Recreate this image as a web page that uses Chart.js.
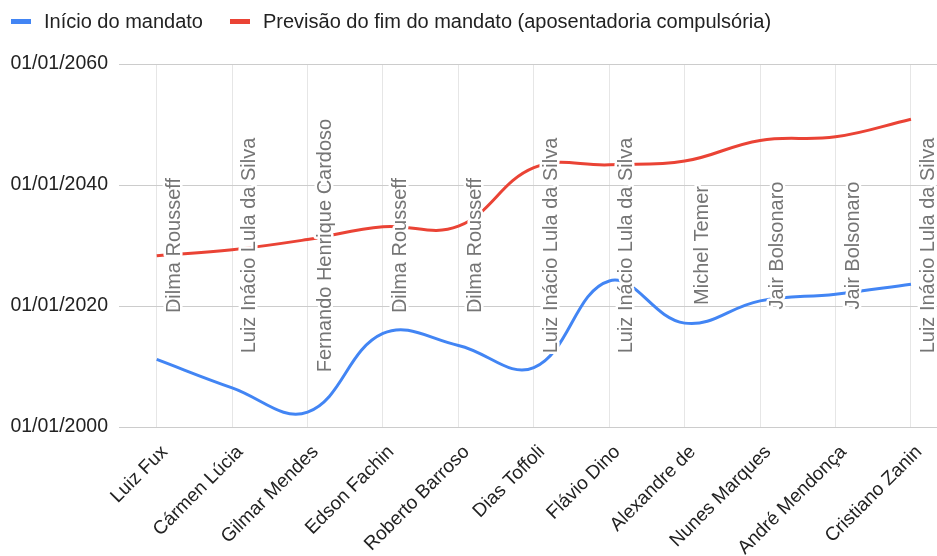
<!DOCTYPE html>
<html>
<head>
<meta charset="utf-8">
<script src="https://cdn.jsdelivr.net/npm/chart.js@4.4.1/dist/chart.umd.min.js"></script>
<style>
  html, body { margin: 0; padding: 0; background: #fff; }
  #wrap { width: 937px; height: 556px; position: relative; }
</style>
</head>
<body>
<div id="wrap"><canvas id="chart"></canvas></div>
<script>
// ministros do STF (eixo x)
const ministros = ['Luiz Fux', 'Cármen Lúcia', 'Gilmar Mendes', 'Edson Fachin', 'Roberto Barroso',
  'Dias Toffoli', 'Flávio Dino', 'Alexandre de', 'Nunes Marques', 'André Mendonça', 'Cristiano Zanin'];

// datas em anos decimais
const inicioMandato = [2011.17, 2006.47, 2002.47, 2015.46, 2013.48, 2009.81, 2024.14, 2017.17, 2020.85, 2021.96, 2023.59];
const fimMandato = [2028.32, 2029.30, 2030.99, 2033.10, 2033.19, 2042.87, 2043.33, 2043.95, 2047.37, 2047.96, 2050.87];

// presidente que indicou
const indicadoPor = ['Dilma Rousseff', 'Luiz Inácio Lula da Silva', 'Fernando Henrique Cardoso', 'Dilma Rousseff',
  'Dilma Rousseff', 'Luiz Inácio Lula da Silva', 'Luiz Inácio Lula da Silva', 'Michel Temer',
  'Jair Bolsonaro', 'Jair Bolsonaro', 'Luiz Inácio Lula da Silva'];

const anosEixo = [2000, 2020, 2040, 2060];

const FONTE = '"Liberation Sans", Arial, sans-serif';

const legenda = {
  id: 'legenda',
  afterDraw(chart) {
    const ctx = chart.ctx;
    ctx.save();
    ctx.font = '20px ' + FONTE;
    ctx.textBaseline = 'alphabetic';
    let x = 11;
    chart.data.datasets.forEach(ds => {
      ctx.fillStyle = ds.borderColor;
      ctx.fillRect(x, 19, 20, 5);
      ctx.fillStyle = '#222';
      ctx.fillText(ds.label, x + 33, 28);
      x += 33 + ctx.measureText(ds.label).width + 27;
    });
    ctx.restore();
  }
};

const anotacoes = {
  id: 'anotacoes',
  afterDatasetsDraw(chart) {
    const { ctx, chartArea, scales } = chart;
    const meio = (chartArea.top + chartArea.bottom) / 2;
    ctx.save();
    ctx.font = '20px ' + FONTE;
    ctx.textAlign = 'center';
    ctx.textBaseline = 'alphabetic';
    ctx.lineJoin = 'round';
    indicadoPor.forEach((nome, i) => {
      const px = scales.x.getPixelForValue(i);
      ctx.save();
      ctx.translate(px + 23, meio);
      ctx.rotate(-Math.PI / 2);
      ctx.lineWidth = 5;
      ctx.strokeStyle = '#fff';
      ctx.strokeText(nome, 0, 0);
      ctx.fillStyle = '#757575';
      ctx.fillText(nome, 0, 0);
      ctx.restore();
    });
    ctx.restore();
  }
};

const ctx = document.getElementById('chart').getContext('2d');
const chart = new Chart(ctx, {
  type: 'line',
  data: {
    datasets: [{
      label: 'Início do mandato',
      data: inicioMandato.map((v, i) => ({ x: i, y: v })),
      borderColor: '#4285F4',
      backgroundColor: '#4285F4',
      borderWidth: 3,
      pointRadius: 0,
      tension: 0.4,
    }, {
      label: 'Previsão do fim do mandato (aposentadoria compulsória)',
      data: fimMandato.map((v, i) => ({ x: i, y: v })),
      borderColor: '#EA4335',
      backgroundColor: '#EA4335',
      borderWidth: 3,
      pointRadius: 0,
      tension: 0.4,
    }]
  },
  options: {
    responsive: true,
    maintainAspectRatio: false,
    animation: false,
    devicePixelRatio: 1,
    layout: { padding: { top: 64, left: 0, right: 0, bottom: 0 } },
    plugins: {
      legend: { display: false },
      tooltip: { enabled: false },
    },
    scales: {
      x: {
        type: 'linear',
        min: -0.5,
        max: 10.345,
        afterBuildTicks: scale => { scale.ticks = ministros.map((_, i) => ({ value: i })); },
        afterFit: scale => {
          scale.height = 129;
          scale.paddingLeft = 0;
          scale.paddingRight = 0;
        },
        grid: { color: '#e6e6e6', drawTicks: false },
        border: { display: false },
        ticks: {
          autoSkip: false,
          maxRotation: 45,
          minRotation: 45,
          padding: 14,
          labelOffset: 8,
          color: '#222',
          font: { family: FONTE, size: 19 },
          callback: v => ministros[v],
        },
      },
      y: {
        type: 'linear',
        min: 2000,
        max: 2060,
        afterBuildTicks: scale => { scale.ticks = anosEixo.map(v => ({ value: v })); },
        afterFit: scale => { scale.width = 119; },
        grid: { color: '#cccccc', drawTicks: false },
        border: { display: false },
        ticks: {
          padding: 11,
          color: '#222',
          font: { family: FONTE, size: 19.5 },
          callback: v => '01/01/' + v,
        },
      },
    },
  },
  plugins: [anotacoes, legenda],
});
</script>
</body>
</html>
